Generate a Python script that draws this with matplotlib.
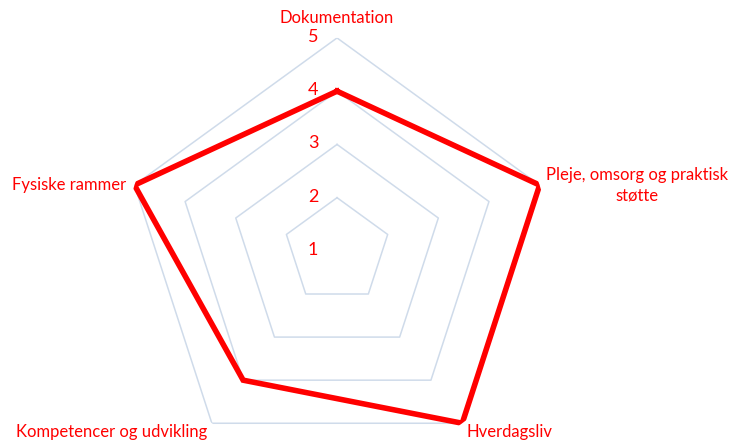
import matplotlib.pyplot as plt
import numpy as np

plt.rcParams["font.family"] = ["Lato", "DejaVu Sans"]

categories = [
    "Dokumentation",
    "Pleje, omsorg og praktisk\nstøtte",
    "Hverdagsliv",
    "Kompetencer og udvikling",
    "Fysiske rammer",
]
values = [4, 5, 5, 4, 5]
rings = [1, 2, 3, 4, 5]

RED = "#ff0000"
GRID = "#cfdbea"
PX = 0.72  # pixels -> points at dpi 100

n = len(categories)
angles = np.linspace(0, 2 * np.pi, n, endpoint=False)
closed = np.append(angles, angles[0])

fig = plt.figure(figsize=(7.3, 4.41), dpi=100)
ax = fig.add_axes([0.1699, -0.052, 0.5836, 0.966], projection="polar")
ax.set_theta_offset(np.pi / 2)
ax.set_theta_direction(-1)
ax.set_ylim(1, 5)

# pentagon grid
for r in rings[1:]:
    ax.plot(closed, [r] * (n + 1), color=GRID, lw=1.1, zorder=1)

# data line
ax.plot(closed, values + values[:1], color=RED, lw=4.0, zorder=3,
        solid_joinstyle="miter")

ax.grid(False)
ax.spines["polar"].set_visible(False)
ax.set_xticks([])
ax.set_yticks([])

# ring labels
for r in rings:
    ax.annotate(str(r), (0, r), xytext=(-24 * PX, 1 * PX), textcoords="offset points",
                ha="center", va="center", color=RED, fontsize=13)

# category labels
offsets = [
    ((0, 20), "center", "center"),
    ((97, 0), "center", "center"),
    ((4, -9), "left", "center"),
    ((-5, -9), "right", "center"),
    ((-8, 0), "right", "center"),
]
for ang, label, (off, ha, va) in zip(angles, categories, offsets):
    ax.annotate(label, (ang, 5), xytext=(off[0] * PX, off[1] * PX),
                textcoords="offset points", ha=ha, va=va,
                multialignment="center", color=RED, fontsize=12,
                linespacing=1.3, annotation_clip=False)

fig.savefig("out.png", dpi=100)
